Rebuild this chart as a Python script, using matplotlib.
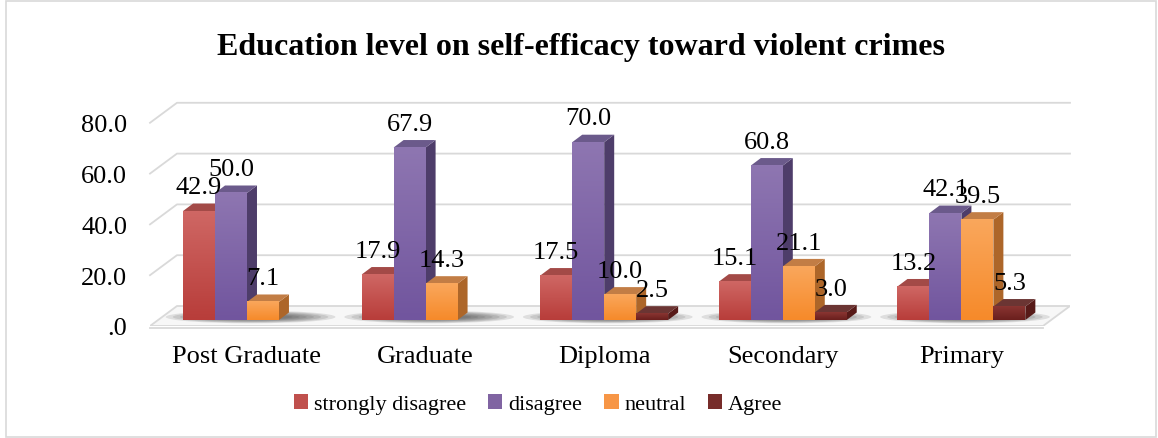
import numpy as np
import matplotlib
matplotlib.use("Agg")
import matplotlib.pyplot as plt
from matplotlib.patches import Polygon, Ellipse, Rectangle, Patch
from matplotlib.colors import LinearSegmentedColormap

plt.rcParams["font.family"] = ["Liberation Serif", "DejaVu Serif"]

# Daten
categories = ["Post Graduate", "Graduate", "Diploma", "Secondary", "Primary"]
series = ["strongly disagree", "disagree", "neutral", "Agree"]
strongly_disagree = [42.9, 17.9, 17.5, 15.1, 13.2]
disagree = [50.0, 67.9, 70.0, 60.8, 42.1]
neutral = [7.1, 14.3, 10.0, 21.1, 39.5]
agree = [None, None, 2.5, 3.0, 5.3]
values = [strongly_disagree, disagree, neutral, agree]
yticks = [0, 20, 40, 60, 80]
ytick_labels = [".0", "20.0", "40.0", "60.0", "80.0"]

# Farben: (oben Front, unten Front, Deckel, Seite, Legende)
colors = [
    ("#cf6764", "#b83d3a", "#a34a47", "#8c3432", "#c0504d"),
    ("#8e76b1", "#71559e", "#6b5a8b", "#4e3d6a", "#8064a2"),
    ("#faa75c", "#f68a2a", "#c27d45", "#ad6629", "#f79646"),
    ("#8a3532", "#6a1f1d", "#6b3533", "#571a18", "#772c2a"),
]

W, H = 1158, 439
fig = plt.figure(figsize=(W / 100, H / 100), dpi=100)
fig.patches.append(Rectangle((6 / W, 1 / H), 1150 / W, 436 / H, transform=fig.transFigure,
                             facecolor="none", edgecolor="#d9d9d9", linewidth=1.2))

ax = fig.add_axes([150 / W, 112 / H, 920 / W, 237 / H])
xmin, xmax = -0.543, 4.608
ymin, ymax = 0, 93.3

# 3D-Parameter in Dateneinheiten
wall_dx, wall_dy = 0.151, 7.87
bar_dx, bar_dy = 0.056, 2.95
base = 2.36
bar_w = 0.179
grid_c = "#d9d9d9"
fs = 19

# Boden
front_right = 4.457
floor = Polygon([(xmin, 0), (front_right, 0), (front_right + wall_dx, wall_dy), (xmin + wall_dx, wall_dy)],
                closed=True, facecolor="#f7f7f7", edgecolor=grid_c, linewidth=1.3, zorder=0.5)
ax.add_patch(floor)
ax.plot([xmin, front_right], [-0.8, -0.8], color=grid_c, linewidth=1.3, zorder=0.5, clip_on=False)

# Gitterlinien (Rückwand + Diagonale links)
for v in yticks[1:]:
    ax.plot([xmin, xmin + wall_dx, xmax], [v, v + wall_dy, v + wall_dy],
            color=grid_c, linewidth=1.3, zorder=0.4, clip_on=False)

# Schatten
for i in range(len(categories)):
    for k in range(7):
        ax.add_patch(Ellipse((i + 0.02, base + 1.2), 0.95 - k * 0.08, 5.0 - k * 0.5,
                             facecolor="#2a2a2a", edgecolor="none", alpha=0.12, zorder=1))

# Balken
offsets = (np.arange(4) - 1.5) * bar_w
for j, vals in enumerate(values):
    top_c, bot_c, lid_c, side_c, _ = colors[j]
    cmap = LinearSegmentedColormap.from_list(f"g{j}", [bot_c, top_c])
    for i, v in enumerate(vals):
        if v is None:
            continue
        x0 = i + offsets[j] - bar_w / 2
        x1 = x0 + bar_w
        y0, y1 = base, base + v
        z = 3 + j * 0.1
        ax.add_patch(Polygon([(x1, y0), (x1 + bar_dx, y0 + bar_dy), (x1 + bar_dx, y1 + bar_dy), (x1, y1)],
                             closed=True, facecolor=side_c, edgecolor="none", zorder=z))
        ax.add_patch(Polygon([(x0, y1), (x1, y1), (x1 + bar_dx, y1 + bar_dy), (x0 + bar_dx, y1 + bar_dy)],
                             closed=True, facecolor=lid_c, edgecolor="none", zorder=z))
        ax.imshow(np.linspace(0, 1, 64).reshape(-1, 1), extent=(x0, x1, y0, y1), origin="lower",
                  cmap=cmap, aspect="auto", interpolation="bilinear", zorder=z + 0.05)
        ax.text(i + offsets[j], y1 + 7.0, f"{v:.1f}", ha="center", va="baseline",
                fontsize=fs, color="black", zorder=10)

ax.set_xlim(xmin, xmax)
ax.set_ylim(ymin, ymax)
ax.set_yticks(yticks)
ax.set_yticklabels(ytick_labels)
ax.set_xticks(range(len(categories)))
ax.set_xticklabels(categories)
ax.tick_params(axis="y", length=0, pad=16.5, labelsize=fs)
ax.tick_params(axis="x", length=0, pad=14, labelsize=fs)
for s in ax.spines.values():
    s.set_visible(False)
ax.patch.set_alpha(0)

fig.text(581 / W, 1 - 47 / H, "Education level on self-efficacy toward violent crimes",
         ha="center", va="center", fontsize=23, fontweight="bold")

handles = [Patch(facecolor=c[4], edgecolor="none", label=s) for c, s in zip(colors, series)]
fig.legend(handles=handles, loc="center", bbox_to_anchor=(538 / W, 1 - 405 / H), ncol=4,
           frameon=False, fontsize=16, handlelength=0.65, handleheight=0.65,
           handletextpad=0.25, columnspacing=1.0)

fig.savefig("out.png", dpi=100)
